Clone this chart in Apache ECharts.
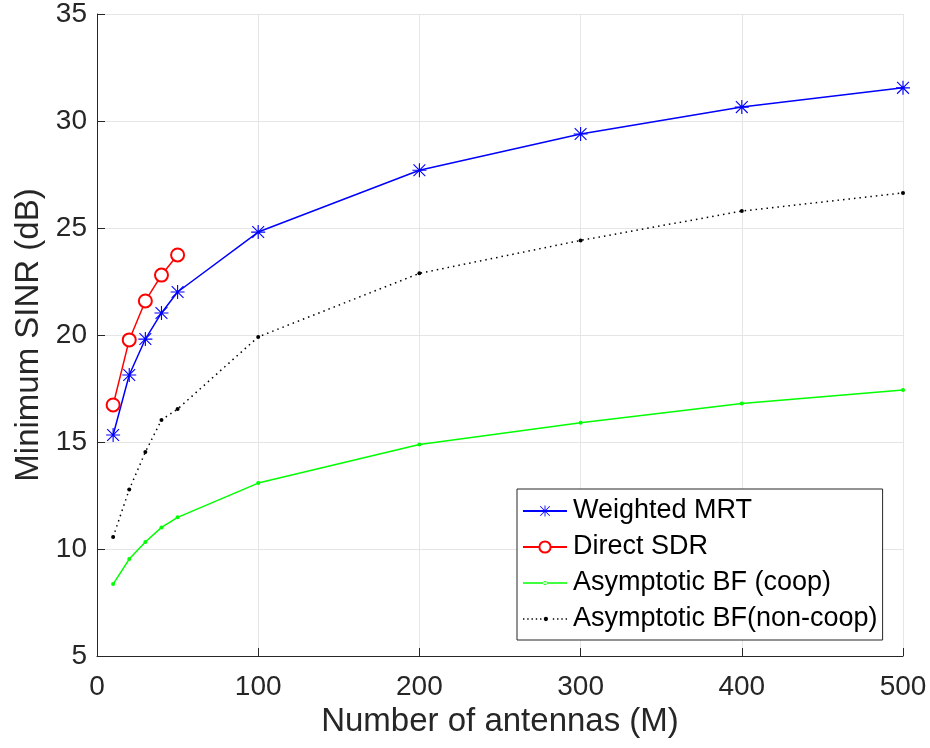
<!DOCTYPE html>
<html><head><meta charset="utf-8">
<script src="https://cdn.jsdelivr.net/npm/echarts@6/dist/echarts.min.js"></script>
<style>html,body{margin:0;padding:0;background:#fff}#c{width:930px;height:748px}</style>
</head><body><div id="c"></div>
<script>
var antennasFull = [10, 20, 30, 40, 50, 100, 200, 300, 400, 500];
var antennasSdr = [10, 20, 30, 40, 50];
var weightedMRT = [15.33, 18.13, 19.81, 21.03, 22.01, 24.81, 27.70, 29.39, 30.65, 31.55];
var directSDR = [16.73, 19.77, 21.59, 22.80, 23.74];
var asymCoop = [8.36, 9.53, 10.33, 11.01, 11.48, 13.08, 14.88, 15.90, 16.80, 17.43];
var asymNonCoop = [10.56, 12.78, 14.53, 16.03, 16.54, 19.91, 22.88, 24.42, 25.79, 26.64];
var seriesNames = ['Weighted MRT', 'Direct SDR', 'Asymptotic BF (coop)', 'Asymptotic BF(non-coop)'];

function pairs(xs, ys) { return xs.map(function (x, i) { return [x, ys[i]]; }); }

var asterisk = 'path://M9.2 0L10.8 0L10.8 20L9.2 20Z M0 9.2L20 9.2L20 10.8L0 10.8Z M1 2.1L2.1 1L19 17.9L17.9 19Z M17.9 1L19 2.1L2.1 19L1 17.9Z';
// legend icons: line + small point marker (44 x 4 design box)
var dotCircle = 'M20 2A2 2 0 1 0 24 2A2 2 0 1 0 20 2Z';
var solidDotIcon = 'path://M0 1.3L44 1.3L44 2.7L0 2.7Z ' + dotCircle;
var dottedDotIcon = (function () {
  var p = '';
  for (var x = 0.5; x < 44; x += 4) {
    if (x > 18 && x < 25) continue;
    p += 'M' + x + ' 1.3L' + (x + 1.3) + ' 1.3L' + (x + 1.3) + ' 2.7L' + x + ' 2.7Z ';
  }
  return 'path://' + p + dotCircle;
})();

var font = '"Liberation Sans", Arial, sans-serif';
var axisCol = '#262626';

var chart = echarts.init(document.getElementById('c'), null, {renderer: 'canvas'});
chart.setOption({
  animation: false,
  backgroundColor: '#fff',
  grid: {left: 97, right: 27, top: 14, bottom: 92, containLabel: false},
  xAxis: {
    type: 'value', min: 0, max: 500, interval: 100,
    name: 'Number of antennas (M)', nameLocation: 'middle', nameGap: 45,
    nameTextStyle: {fontSize: 33, color: axisCol, fontFamily: font},
    axisLine: {show: true, lineStyle: {color: axisCol, width: 1}},
    axisTick: {show: true, inside: true, length: 8, lineStyle: {color: axisCol}},
    axisLabel: {fontSize: 28, color: axisCol, fontFamily: font, margin: 17},
    splitLine: {show: true, lineStyle: {color: '#e5e5e5', width: 1}}
  },
  yAxis: {
    type: 'value', min: 5, max: 35, interval: 5,
    name: 'Minimum SINR (dB)', nameLocation: 'middle', nameGap: 52,
    nameTextStyle: {fontSize: 33, color: axisCol, fontFamily: font},
    axisLine: {show: true, lineStyle: {color: axisCol, width: 1}},
    axisTick: {show: true, inside: true, length: 8, lineStyle: {color: axisCol}},
    axisLabel: {fontSize: 28, color: axisCol, fontFamily: font, margin: 10},
    splitLine: {show: true, lineStyle: {color: '#e5e5e5', width: 1}}
  },
  legend: {
    orient: 'vertical', left: 517, top: 489,
    data: [
      {name: seriesNames[0]},
      {name: seriesNames[1]},
      {name: seriesNames[2], icon: solidDotIcon},
      {name: seriesNames[3], icon: dottedDotIcon}
    ],
    symbolKeepAspect: true,
    backgroundColor: '#fff', borderColor: axisCol, borderWidth: 1,
    padding: [7, 5, 6, 5], itemGap: 6, itemWidth: 44, itemHeight: 14,
    textStyle: {fontSize: 27, lineHeight: 30, color: '#000', fontFamily: font, padding: [0, 0, 0, 1]}
  },
  series: [
    {name: seriesNames[0], type: 'line', data: pairs(antennasFull, weightedMRT),
     symbol: asterisk, symbolSize: 14, color: '#0000ff',
     lineStyle: {color: '#0000ff', width: 1.5}, itemStyle: {color: '#0000ff'}, z: 4},
    {name: seriesNames[1], type: 'line', data: pairs(antennasSdr, directSDR),
     symbol: 'emptyCircle', symbolSize: 13, color: '#ff0000',
     lineStyle: {color: '#ff0000', width: 1.5},
     itemStyle: {color: '#ff0000', borderColor: '#ff0000', borderWidth: 1.5}, z: 5},
    {name: seriesNames[2], type: 'line', data: pairs(antennasFull, asymCoop),
     symbol: 'circle', symbolSize: 4, color: '#00ff00',
     lineStyle: {color: '#00ff00', width: 1.5}, itemStyle: {color: '#00ff00'}, z: 3},
    {name: seriesNames[3], type: 'line', data: pairs(antennasFull, asymNonCoop),
     symbol: 'circle', symbolSize: 4, color: '#000',
     lineStyle: {color: '#000', width: 1.5, type: [1.5, 4]}, itemStyle: {color: '#000'}, z: 3}
  ]
});
</script></body></html>
